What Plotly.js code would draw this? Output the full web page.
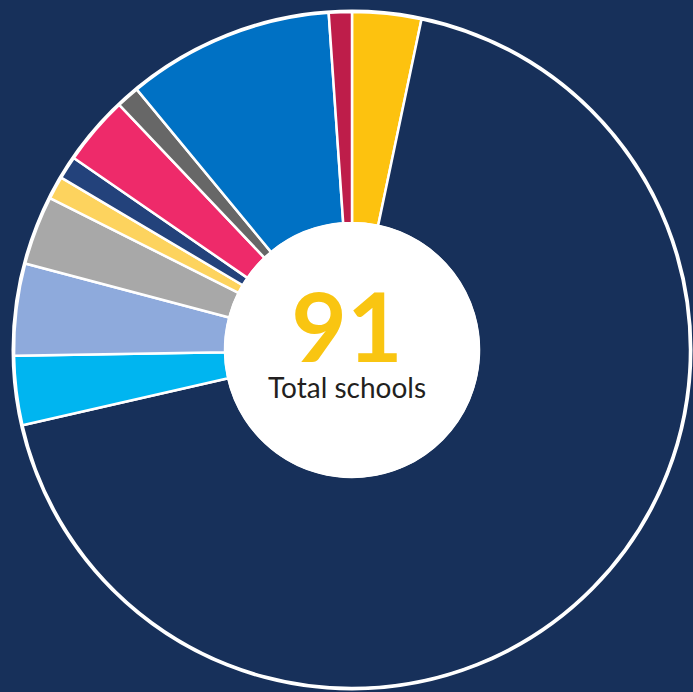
<!DOCTYPE html>
<html>
<head>
<meta charset="utf-8">
<script src="https://cdn.plot.ly/plotly-3.0.1.min.js"></script>
<style>html,body{margin:0;padding:0;background:#17305a;}#chart{width:693px;height:692px;}</style>
</head>
<body>
<div id="chart"></div>
<script>
const categories = ["A", "B", "C", "D", "E", "F", "G", "H", "I", "J", "K"];
const schools = [3, 62, 3, 4, 3, 1, 1, 3, 1, 9, 1];
const sliceColors = ["#fdc20f", "#17305a", "#00b5f0", "#8eaadc", "#a8a8a8", "#fdd35e", "#23427b", "#ee2a6a", "#676767", "#0071c4", "#be1d4a"];
const totalLabel = "91";
const centerText = "Total schools";

const W = 693, H = 692;
const cx = 352, cy = 342, R = 338, rHole = 127;

const trace = {
  type: "pie",
  labels: categories,
  values: schools,
  sort: false,
  direction: "clockwise",
  rotation: 0,
  hole: rHole / R,
  textinfo: "none",
  hoverinfo: "label+value",
  marker: { colors: sliceColors, line: { color: "#ffffff", width: 2.5 } },
  domain: { x: [(cx - R) / W, (cx + R) / W], y: [(cy - R) / H, (cy + R) / H] },
  showlegend: false
};

const layout = {
  width: W, height: H,
  margin: { l: 0, r: 0, t: 0, b: 0 },
  paper_bgcolor: "#17305a",
  plot_bgcolor: "#17305a",
  shapes: [
    { type: "circle", xref: "paper", yref: "paper",
      x0: (cx - R - 1) / W, x1: (cx + R + 1) / W, y0: (cy - R - 1) / H, y1: (cy + R + 1) / H,
      line: { color: "#ffffff", width: 3 }, fillcolor: "rgba(0,0,0,0)", layer: "above" },
    { type: "circle", xref: "paper", yref: "paper",
      x0: (cx - rHole - 1) / W, x1: (cx + rHole + 1) / W, y0: (cy - rHole - 1) / H, y1: (cy + rHole + 1) / H,
      line: { color: "#ffffff", width: 0 }, fillcolor: "#ffffff", layer: "above" }
  ],
  annotations: [
    { text: "<span style='font-size:96px;color:#f9c511;font-weight:bold'>" + totalLabel + "</span><br>" + centerText,
      xref: "paper", yref: "paper", x: 347 / W, y: (H - 335) / H,
      showarrow: false, xanchor: "center", yanchor: "middle", align: "center",
      font: { family: "Lato, 'Open Sans', sans-serif", size: 28, color: "#231f20" } }
  ]
};

Plotly.newPlot("chart", [trace], layout, { displayModeBar: false, staticPlot: true });
</script>
</body>
</html>
